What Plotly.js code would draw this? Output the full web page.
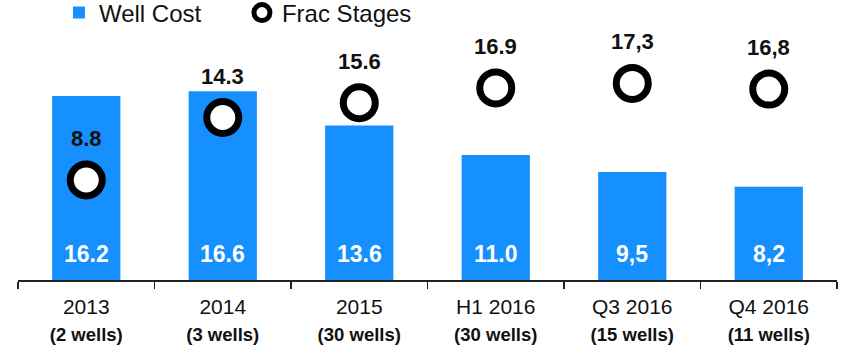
<!DOCTYPE html>
<html>
<head>
<meta charset="utf-8">
<script src="https://cdn.plot.ly/plotly-3.0.1.min.js"></script>
<style>
  html, body { margin: 0; padding: 0; background: #ffffff; }
  #chart { width: 846px; height: 346px; }
</style>
</head>
<body>
<div id="chart"></div>
<script>
// Periods along the x axis and the number of wells in each
const periods = ['2013', '2014', '2015', 'H1 2016', 'Q3 2016', 'Q4 2016'];
const wellCounts = ['(2 wells)', '(3 wells)', '(30 wells)', '(30 wells)', '(15 wells)', '(11 wells)'];

// Series values
const wellCost = [16.2, 16.6, 13.6, 11.0, 9.5, 8.2];
const fracStages = [8.8, 14.3, 15.6, 16.9, 17.3, 16.8];

// Decimal separator used in each period's labels
const decimalMarks = ['.', '.', '.', '.', ',', ','];

const FONT = '"Liberation Sans", Arial, sans-serif';
const BLUE = '#1690FF';

const fmt = (v, i) => v.toFixed(1).replace('.', decimalMarks[i]);

// Two-line category labels: period, then the well count in bold
const categories = periods.map((p, i) =>
  p + '<br><span style="font-size:18.5px;font-weight:bold">' + wellCounts[i] + '</span>'
);

const costTrace = {
  type: 'bar',
  name: 'Well Cost',
  x: categories,
  y: wellCost,
  marker: { color: BLUE },
  hoverinfo: 'skip'
};

const fracTrace = {
  type: 'scatter',
  mode: 'markers',
  name: 'Frac Stages',
  x: categories,
  y: fracStages,
  marker: {
    symbol: 'circle',
    size: 32,
    color: '#ffffff',
    line: { color: '#000000', width: 7 }
  },
  cliponaxis: false,
  hoverinfo: 'skip'
};

// Well cost values written in white at the foot of each bar
const costLabels = wellCost.map((v, i) => ({
  x: categories[i],
  y: 0,
  xref: 'x',
  yref: 'y',
  yanchor: 'middle',
  yshift: 26,
  text: '<b>' + fmt(v, i) + '</b>',
  showarrow: false,
  font: { family: FONT, size: 23, color: '#ffffff' }
}));

// Frac stage values written above each circle
const fracLabels = fracStages.map((v, i) => ({
  x: categories[i],
  y: v,
  xref: 'x',
  yref: 'y',
  yanchor: 'bottom',
  yshift: 27,
  text: '<b>' + fmt(v, i) + '</b>',
  showarrow: false,
  font: { family: FONT, size: 22, color: '#111111' }
}));

const layout = {
  width: 846,
  height: 346,
  margin: { l: 18, r: 9, t: 30, b: 66, autoexpand: false },
  paper_bgcolor: '#ffffff',
  plot_bgcolor: '#ffffff',
  font: { family: FONT, color: '#111111' },
  bargap: 0.5,
  showlegend: true,
  legend: {
    orientation: 'h',
    x: 0.05,
    xanchor: 'left',
    y: 1.068,
    yanchor: 'middle',
    font: { family: FONT, size: 24, color: '#111111' },
    entrywidth: 138,
    itemwidth: 30,
    bgcolor: 'rgba(0,0,0,0)'
  },
  xaxis: {
    type: 'category',
    automargin: false,
    tickson: 'boundaries',
    ticks: 'outside',
    ticklen: 7,
    tickwidth: 1.5,
    tickcolor: '#222222',
    tickangle: 0,
    ticklabelstandoff: 7,
    showline: true,
    linecolor: '#222222',
    linewidth: 1.5,
    showgrid: false,
    zeroline: false,
    tickfont: { family: FONT, size: 21, color: '#111111' },
    fixedrange: true
  },
  yaxis: {
    range: [0, 22],
    visible: false,
    automargin: false,
    showgrid: false,
    zeroline: false,
    fixedrange: true
  },
  annotations: costLabels.concat(fracLabels),
  hovermode: false
};

Plotly.newPlot('chart', [costTrace, fracTrace], layout, { displayModeBar: false, staticPlot: true });
</script>
</body>
</html>
